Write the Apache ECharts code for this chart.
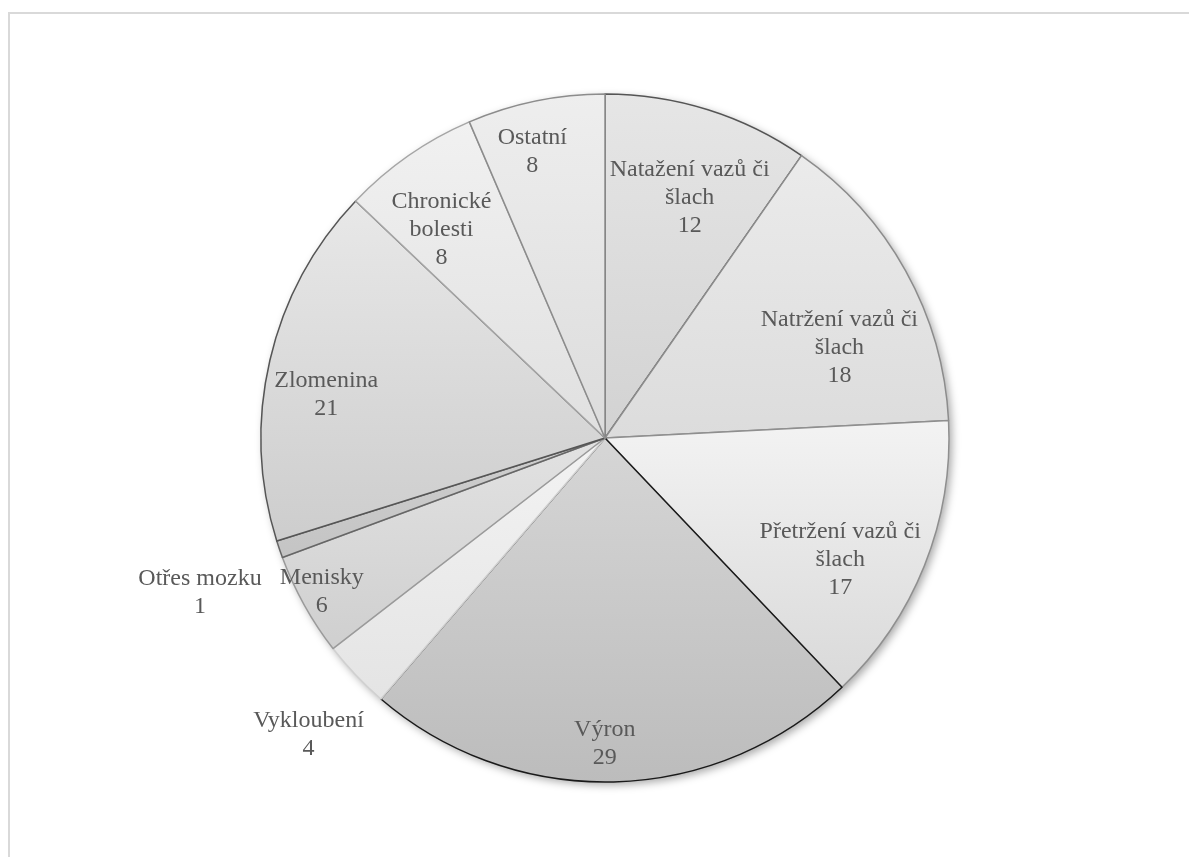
<!DOCTYPE html>
<html>
<head>
<meta charset="utf-8">
<script src="https://cdn.jsdelivr.net/npm/echarts@6/dist/echarts.min.js"></script>
<style>
  html, body { margin: 0; padding: 0; background: #ffffff; }
  #frame { position: absolute; left: 8px; top: 12px; width: 1200px; height: 900px; border: 2px solid #d9d9d9; box-sizing: border-box; }
  #chart { position: absolute; left: 0; top: 0; width: 1189px; height: 857px; }
</style>
</head>
<body>
<div id="frame"></div>
<div id="chart"></div>
<script>
// ---- data ----
const categories = [
  'Natažení vazů či\nšlach',
  'Natržení vazů či\nšlach',
  'Přetržení vazů či\nšlach',
  'Výron',
  'Vykloubení',
  'Menisky',
  'Otřes mozku',
  'Zlomenina',
  'Chronické\nbolesti',
  'Ostatní'
];
const values = [12, 18, 17, 29, 4, 6, 1, 21, 8, 8];

// ---- styles ----
const fillTop    = ['#e6e6e6', '#ebebeb', '#f3f3f3', '#d6d6d6', '#f3f3f3', '#e2e2e2', '#cfcfcf', '#e8e8e8', '#f1f1f1', '#eeeeee'];
const fillBottom = ['#d2d2d2', '#dcdcdc', '#d9d9d9', '#bcbcbc', '#e4e4e4', '#cfcfcf', '#c4c4c4', '#cdcdcd', '#e0e0e0', '#dcdcdc'];
const borderColors = ['#555555', '#8c8c8c', '#8f8f8f', '#1a1a1a', '#d0d0d0', '#9a9a9a', '#666666', '#555555', '#a6a6a6', '#8c8c8c'];
const labelRadius = [0.74, 0.73, 0.77, 0.89, 1.22, 0.936, 1.26, 0.82, 0.77, 0.86];
const labelAngleShift = [2, 8, 5.6, 1.5, -1.5, 0.6, -2, -4.3, -3.3, -2.6];

const CX = 605, CY = 438, R = 344;
const total = values.reduce((a, b) => a + b, 0);

const chart = echarts.init(document.getElementById('chart'), null, { renderer: 'canvas' });

const pieData = categories.map((name, i) => ({
  name: name,
  value: values[i],
  itemStyle: {
    color: new echarts.graphic.LinearGradient(0, 0, 0, 1, [
      { offset: 0, color: fillTop[i] },
      { offset: 1, color: fillBottom[i] }
    ]),
    borderColor: borderColors[i],
    borderWidth: 1.5
  }
}));

chart.setOption({
  backgroundColor: 'transparent',
  animation: false,
  series: [
    {
      type: 'pie',
      silent: true,
      center: [CX, CY],
      radius: [0, R],
      startAngle: 90,
      label: { show: false },
      labelLine: { show: false },
      itemStyle: {
        color: '#d0d0d0',
        shadowBlur: 8,
        shadowOffsetX: 3,
        shadowOffsetY: 3,
        shadowColor: 'rgba(0,0,0,0.35)'
      },
      data: [{ name: 'bg', value: total }]
    },
    {
      type: 'pie',
      center: [CX, CY],
      radius: [0, R],
      startAngle: 90,
      clockwise: true,
      avoidLabelOverlap: false,
      label: {
        show: true,
        position: 'inside',
        formatter: '{b}\n{c}',
        fontFamily: '"Liberation Serif", serif',
        fontSize: 24,
        lineHeight: 28,
        color: '#595959',
        align: 'center'
      },
      labelLine: { show: false },
      emphasis: { disabled: true },
      labelLayout: function (p) {
        const i = p.dataIndex;
        let cum = 0;
        for (let j = 0; j < i; j++) cum += values[j];
        const mid = (cum + values[i] / 2) / total * 360 + labelAngleShift[i];
        const rad = mid * Math.PI / 180;
        const r = R * labelRadius[i];
        return {
          x: CX + r * Math.sin(rad),
          y: CY - r * Math.cos(rad),
          align: 'center',
          verticalAlign: 'middle'
        };
      },
      data: pieData
    }
  ]
});
</script>
</body>
</html>
